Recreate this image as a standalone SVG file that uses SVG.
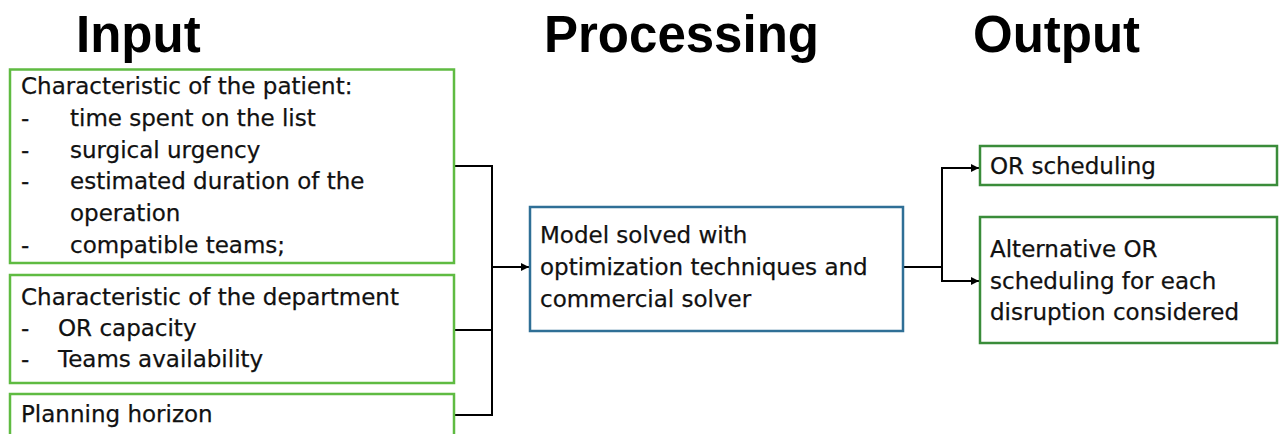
<svg xmlns="http://www.w3.org/2000/svg" width="1279" height="434" viewBox="0 0 1279 434">
  <style>
    .hdr { font-family: "Liberation Sans", Arial, sans-serif; font-weight: bold; font-size: 51px; fill: #000; }
    .txt { font-family: "DejaVu Sans", "Liberation Sans", sans-serif; font-size: 23px; fill: #111; stroke: #111; stroke-width: 0.25; }
    .in  { fill: #fff; stroke: #5fbb42; stroke-width: 2.5; }
    .out { fill: #fff; stroke: #3a8c3a; stroke-width: 2.5; }
    .proc { fill: #fff; stroke: #2f6f96; stroke-width: 2.5; }
    .wire { fill: none; stroke: #000; stroke-width: 2; }
  </style>
  <defs>
    <marker id="arrow" viewBox="0 0 10 10" refX="10" refY="5" markerWidth="9" markerHeight="8" markerUnits="userSpaceOnUse" orient="auto">
      <path d="M0,0 L10,5 L0,10 z" fill="#000"/>
    </marker>
  </defs>

  <rect width="1279" height="434" fill="#fff"/>

  <!-- column headings -->
  <g id="headings">
    <text class="hdr" x="76" y="52">Input</text>
    <text class="hdr" x="544" y="52">Processing</text>
    <text class="hdr" x="973" y="52">Output</text>
  </g>

  <!-- connectors -->
  <g id="connectors">
    <path class="wire" d="M455,166 H492 V415 H455"/>
    <path class="wire" d="M455,330 H492"/>
    <path class="wire" d="M492,267 H529" marker-end="url(#arrow)"/>
    <path class="wire" d="M904,267 H942"/>
    <path class="wire" d="M979,168 H942 V281 H979" marker-end="url(#arrow)"/>
    <path class="wire" d="M942,168 H979" marker-end="url(#arrow)"/>
  </g>

  <!-- input: patient characteristics -->
  <g id="patient">
    <rect class="in" x="10" y="69.5" width="444" height="193.5"/>
    <text class="txt" x="21" y="94">Characteristic of the patient:</text>
    <text class="txt" x="21" y="126">-</text>
    <text class="txt" x="70" y="126">time spent on the list</text>
    <text class="txt" x="21" y="157.5">-</text>
    <text class="txt" x="70" y="157.5">surgical urgency</text>
    <text class="txt" x="21" y="189">-</text>
    <text class="txt" x="70" y="189">estimated duration of the</text>
    <text class="txt" x="70" y="221">operation</text>
    <text class="txt" x="21" y="253">-</text>
    <text class="txt" x="70" y="253">compatible teams;</text>
  </g>

  <!-- input: department characteristics -->
  <g id="department">
    <rect class="in" x="10" y="275" width="444" height="108"/>
    <text class="txt" x="21" y="305">Characteristic of the department</text>
    <text class="txt" x="21" y="336">-</text>
    <text class="txt" x="58" y="336">OR capacity</text>
    <text class="txt" x="21" y="367">-</text>
    <text class="txt" x="58" y="367">Teams availability</text>
  </g>

  <!-- input: planning horizon -->
  <g id="horizon">
    <rect class="in" x="10" y="394" width="444" height="60"/>
    <text class="txt" x="21" y="422">Planning horizon</text>
  </g>

  <!-- processing -->
  <g id="model">
    <rect class="proc" x="530" y="207" width="373" height="124"/>
    <text class="txt" x="540" y="243">Model solved with</text>
    <text class="txt" x="540" y="275">optimization techniques and</text>
    <text class="txt" x="540" y="307">commercial solver</text>
  </g>

  <!-- outputs -->
  <g id="schedule">
    <rect class="out" x="980" y="146" width="297" height="39"/>
    <text class="txt" x="990" y="174">OR scheduling</text>
  </g>

  <g id="alternatives">
    <rect class="out" x="980" y="217" width="297" height="126"/>
    <text class="txt" x="990" y="257">Alternative OR</text>
    <text class="txt" x="990" y="288.5">scheduling for each</text>
    <text class="txt" x="990" y="320">disruption considered</text>
  </g>
</svg>
